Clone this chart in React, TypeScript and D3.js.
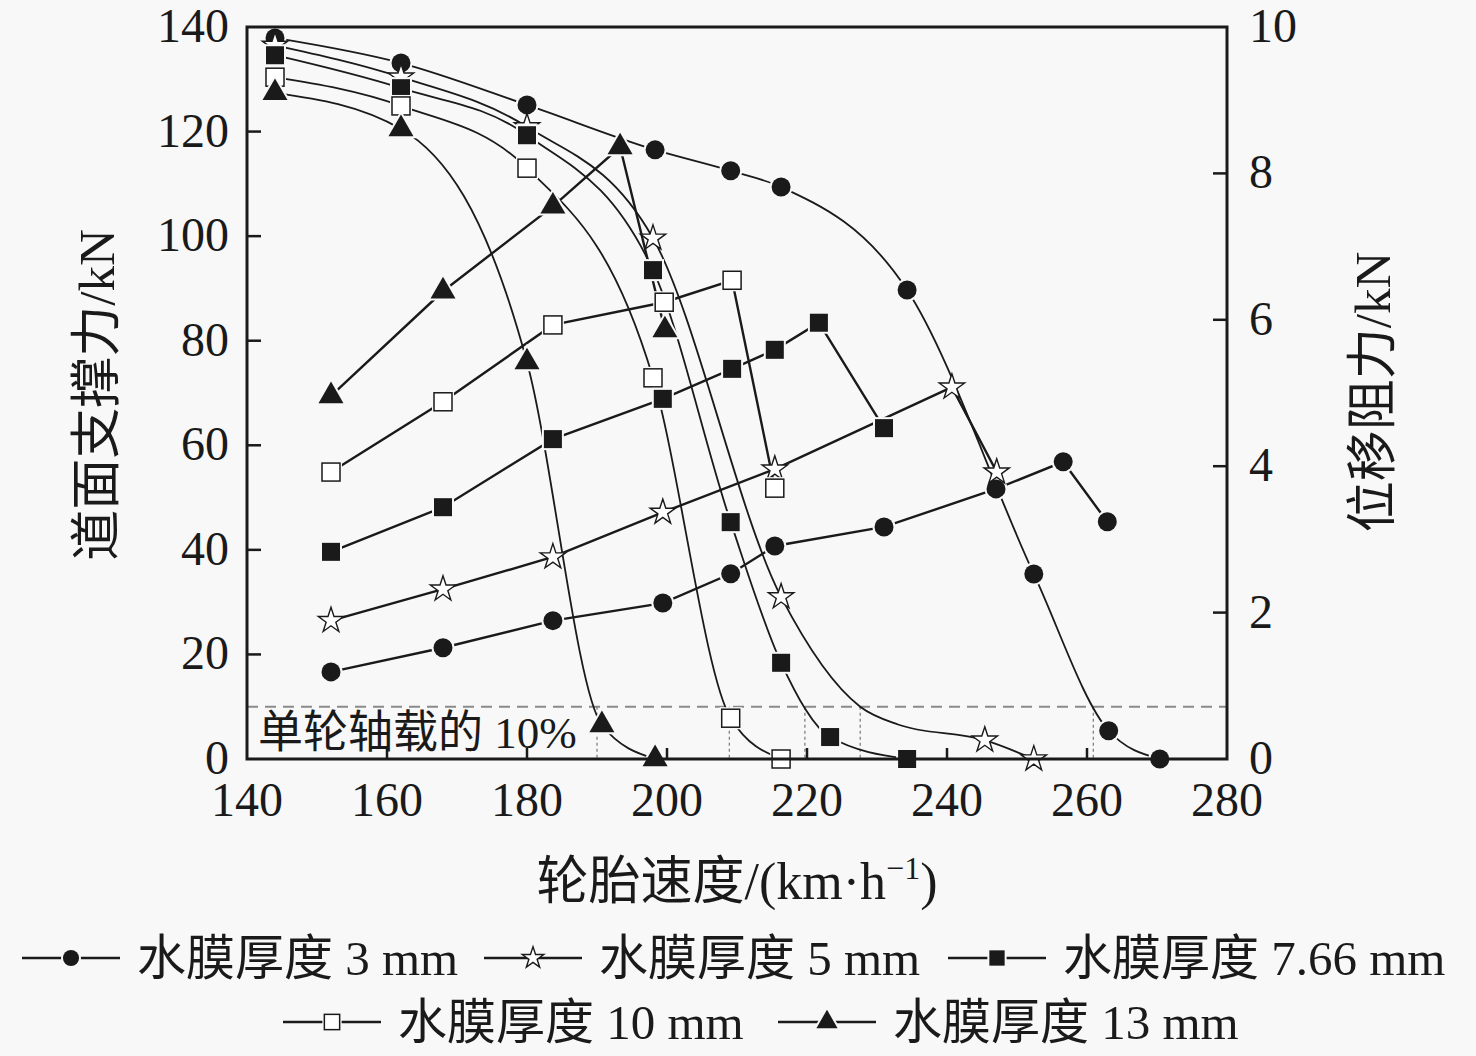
import * as d3 from 'd3'

// support force (left axis, kN) — smooth curves
const sup3X = [144, 162, 180, 198.3, 209.1, 216.3, 234.3, 252.4, 263.1, 270.4]
const sup3Y = [137.9, 133.1, 125.1, 116.5, 112.5, 109.4, 89.7, 35.4, 5.4, 0]
const sup5X = [144, 162, 180, 198, 216.3, 245.4, 252.4]
const sup5Y = [136.5, 130.4, 120.9, 99.6, 31.0, 3.6, 0]
// points the 5 mm curve passes through between markers
const sup5ViaX = [227.6, 233.0]
const sup5ViaY = [10, 6.6]
const sup766X = [144, 162, 180, 198, 209.1, 216.3, 223.3, 234.3]
const sup766Y = [134.6, 128.3, 119.3, 93.5, 45.3, 18.4, 4.2, 0]
const sup10X = [144, 162, 180, 198, 209.1, 216.3]
const sup10Y = [130.4, 124.9, 113.0, 72.9, 7.8, 0]
const sup13X = [144, 162, 180, 190.7, 198.3]
const sup13Y = [127.4, 120.5, 75.9, 6.5, 0]

// displacement resistance (right axis, kN) — straight segments
const drag3X = [152, 168, 183.7, 199.4, 209.1, 215.4, 231, 247, 256.6, 262.9]
const drag3Y = [1.19, 1.52, 1.89, 2.13, 2.53, 2.91, 3.17, 3.69, 4.06, 3.24]
const drag5X = [152, 168, 183.7, 199.4, 215.4, 240.7, 247.1]
const drag5Y = [1.89, 2.32, 2.76, 3.37, 3.96, 5.08, 3.92]
const drag766X = [152, 168, 183.7, 199.4, 209.3, 215.4, 221.7, 231]
const drag766Y = [2.83, 3.44, 4.37, 4.92, 5.33, 5.59, 5.96, 4.52]
const drag10X = [152, 168, 183.7, 199.6, 209.3, 215.4]
const drag10Y = [3.92, 4.88, 5.93, 6.24, 6.54, 3.70]
const drag13X = [152, 168, 183.7, 193.3, 199.7]
const drag13Y = [4.96, 6.39, 7.55, 8.36, 5.86]

// 10% single-wheel load threshold and the speeds where curves cross it
const thresholdKN = 10
const crossSpeeds = [190.0, 208.9, 219.7, 227.6, 260.9]

const xTicks = [140, 160, 180, 200, 220, 240, 260, 280]
const yLeftTicks = [0, 20, 40, 60, 80, 100, 120, 140]
const yRightTicks = [0, 2, 4, 6, 8, 10]

const seriesNames = ['水膜厚度 3 mm', '水膜厚度 5 mm', '水膜厚度 7.66 mm', '水膜厚度 10 mm', '水膜厚度 13 mm']

type MarkerKind = 'circle' | 'star' | 'square' | 'openSquare' | 'triangle'
const markerKinds: MarkerKind[] = ['circle', 'star', 'square', 'openSquare', 'triangle']

const W = 1476
const H = 1056
const BG = '#f8f8f8'
const INK = '#1a1a1a'
const SERIF = '"Liberation Serif", "Times New Roman", "Noto Sans CJK SC", serif'

const x = d3.scaleLinear().domain([140, 280]).range([247, 1227])
const yL = d3.scaleLinear().domain([0, 140]).range([759, 27])
const yR = d3.scaleLinear().domain([0, 10]).range([759, 27])

const zip = (xs: number[], ys: number[]) => xs.map((v, i) => [v, ys[i]] as [number, number])

const supports = [zip(sup3X, sup3Y), zip(sup5X, sup5Y), zip(sup766X, sup766Y), zip(sup10X, sup10Y), zip(sup13X, sup13Y)]
const drags = [zip(drag3X, drag3Y), zip(drag5X, drag5Y), zip(drag766X, drag766Y), zip(drag10X, drag10Y), zip(drag13X, drag13Y)]

// path points: markers plus pass-through points, sorted by speed
const supportPaths = supports.map((s, i) =>
  i === 1 ? [...s, ...zip(sup5ViaX, sup5ViaY)].sort((a, b) => a[0] - b[0]) : s)

const supLine = d3.line<[number, number]>()
  .x(d => x(d[0]))
  .y(d => yL(d[1]))
  .curve(d3.curveMonotoneX)

const dragLine = d3.line<[number, number]>()
  .x(d => x(d[0]))
  .y(d => yR(d[1]))

function Marker({ kind, cx, cy, scale = 1 }: { kind: MarkerKind; cx: number; cy: number; scale?: number }) {
  const t = `translate(${cx},${cy})`
  if (kind === 'circle') {
    const r = 9.5 * scale
    return (
      <g transform={t}>
        <circle r={r + 2} fill={BG} />
        <circle r={r} fill={INK} />
      </g>
    )
  }
  if (kind === 'square' || kind === 'openSquare') {
    const s = 18 * scale
    const open = kind === 'openSquare'
    return (
      <g transform={t}>
        <rect x={-s / 2 - 2} y={-s / 2 - 2} width={s + 4} height={s + 4} fill={BG} />
        <rect x={-s / 2} y={-s / 2} width={s} height={s}
          fill={open ? '#ffffff' : INK} stroke={INK} strokeWidth={open ? 1.5 : 0} />
      </g>
    )
  }
  if (kind === 'triangle') {
    const p = d3.symbol(d3.symbolTriangle, 270 * scale * scale)() || ''
    return (
      <g transform={t}>
        <path d={p} fill={BG} stroke={BG} strokeWidth={4} />
        <path d={p} fill={INK} />
      </g>
    )
  }
  const p = d3.symbol(d3.symbolStar, 200 * scale * scale)() || ''
  return (
    <g transform={t}>
      <path d={p} fill="#ffffff" stroke={INK} strokeWidth={1.4} />
    </g>
  )
}

function LegendItem({ idx, lx, ly }: { idx: number; lx: number; ly: number }) {
  return (
    <g>
      <line x1={lx} x2={lx + 98} y1={ly} y2={ly} stroke={INK} strokeWidth={2.5} />
      <Marker kind={markerKinds[idx]} cx={lx + 49} cy={ly} scale={0.85} />
      <text x={lx + 115} y={ly + 17} fontSize={49} fontFamily={SERIF} fill={INK}>{seriesNames[idx]}</text>
    </g>
  )
}

export default function App() {
  const x0 = x(140), x1 = x(280), y0 = yL(0), y1 = yL(140)
  const legendPos = [
    [22, 958], [484, 958], [948, 958],
    [283, 1022], [778, 1022],
  ]
  return (
    <svg width={W} height={H} style={{ position: 'absolute', left: 0, top: 0, background: BG }}>
      <rect x={0} y={0} width={W} height={H} fill={BG} />

      {/* threshold line and critical speed markers */}
      <line x1={x0} x2={x1} y1={yL(thresholdKN)} y2={yL(thresholdKN)}
        stroke="#8a8a8a" strokeWidth={2} strokeDasharray="11 7" />
      {crossSpeeds.map((s, i) => (
        <line key={i} x1={x(s)} x2={x(s)} y1={yL(thresholdKN)} y2={y0}
          stroke="#777" strokeWidth={1.2} strokeDasharray="3 3" />
      ))}
      <text x={258} y={748} fontSize={45} fontFamily={SERIF} fill={INK}>单轮轴载的 10%</text>

      {/* curves */}
      {supportPaths.map((s, i) => (
        <path key={'s' + i} d={supLine(s) || ''} fill="none" stroke={INK} strokeWidth={1.8} />
      ))}
      {drags.map((s, i) => (
        <path key={'d' + i} d={dragLine(s) || ''} fill="none" stroke={INK} strokeWidth={2.4} />
      ))}

      {/* markers */}
      {supports.map((s, i) => s.map((d, j) => (
        <Marker key={`sm${i}-${j}`} kind={markerKinds[i]} cx={x(d[0])} cy={yL(d[1])} />
      )))}
      {drags.map((s, i) => s.map((d, j) => (
        <Marker key={`dm${i}-${j}`} kind={markerKinds[i]} cx={x(d[0])} cy={yR(d[1])} />
      )))}

      {/* frame */}
      <rect x={x0} y={y1} width={x1 - x0} height={y0 - y1} fill="none" stroke={INK} strokeWidth={3} />

      {/* x axis ticks */}
      {xTicks.map(t => (
        <g key={'xt' + t}>
          {t > 140 && t < 280 && <line x1={x(t)} x2={x(t)} y1={y0} y2={y0 - 11} stroke={INK} strokeWidth={2.5} />}
          <text x={x(t)} y={y0 + 57} textAnchor="middle" fontSize={48} fontFamily={SERIF} fill={INK}>{t}</text>
        </g>
      ))}
      {/* left axis ticks */}
      {yLeftTicks.map(t => (
        <g key={'yl' + t}>
          {t > 0 && t < 140 && <line x1={x0} x2={x0 + 14} y1={yL(t)} y2={yL(t)} stroke={INK} strokeWidth={2.5} />}
          <text x={x0 - 18} y={yL(t) + 15} textAnchor="end" fontSize={48} fontFamily={SERIF} fill={INK}>{t}</text>
        </g>
      ))}
      {/* right axis ticks */}
      {yRightTicks.map(t => (
        <g key={'yr' + t}>
          {t > 0 && t < 10 && <line x1={x1} x2={x1 - 14} y1={yR(t)} y2={yR(t)} stroke={INK} strokeWidth={2.5} />}
          <text x={x1 + 22} y={yR(t) + 15} textAnchor="start" fontSize={48} fontFamily={SERIF} fill={INK}>{t}</text>
        </g>
      ))}

      {/* axis titles */}
      <text transform="translate(114,395) rotate(-90)" textAnchor="middle" fontSize={51} fontFamily={SERIF} fill={INK}>道面支撑力/kN</text>
      <text transform="translate(1390,392) rotate(-90)" textAnchor="middle" fontSize={51} fontFamily={SERIF} fill={INK}>位移阻力/kN</text>
      <text x={737} y={899} textAnchor="middle" fontSize={52} fontFamily={SERIF} fill={INK}>
        轮胎速度/(km·h<tspan dy={-20} fontSize={32}>−1</tspan><tspan dy={20}>)</tspan>
      </text>

      {/* legend */}
      {legendPos.map((p, i) => (
        <LegendItem key={'lg' + i} idx={i} lx={p[0]} ly={p[1]} />
      ))}
    </svg>
  )
}
